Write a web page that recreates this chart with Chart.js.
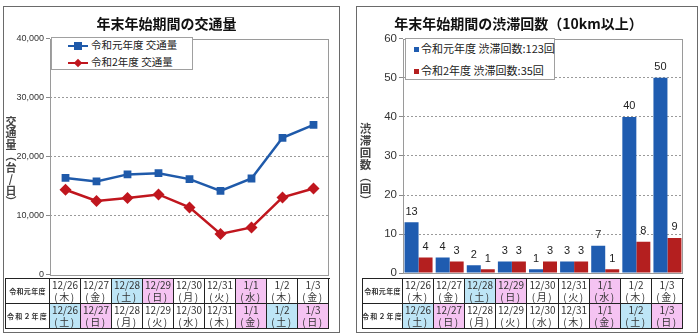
<!DOCTYPE html>
<html><head><meta charset="utf-8">
<script src="https://cdn.jsdelivr.net/npm/chart.js@4.4.1/dist/chart.umd.min.js"></script>
<style>
html,body{margin:0;padding:0;background:#fff}
body{width:700px;height:335px;position:relative;overflow:hidden;font-family:"Noto Sans CJK JP","Noto Sans",sans-serif;color:#222}
.panel{position:absolute;border:1px solid #6a6a6a;box-sizing:border-box}
.cv{position:absolute}
.ytitle{position:absolute;writing-mode:vertical-rl;text-orientation:upright;font-weight:bold;color:#444;line-height:1;letter-spacing:0.5px}
.legend{position:absolute;background:#fff;border:1px solid #a0a0a0;box-sizing:border-box}
.lrow{position:absolute;left:0;white-space:nowrap;line-height:1}
.tbl{position:absolute}
.cell{position:absolute;box-sizing:border-box;border-right:1px solid #222;border-bottom:1px solid #222;text-align:center;color:#333;font-size:10px;line-height:12px;padding-top:0px}
.hcell{font-weight:bold;font-size:7px;display:flex;align-items:center;justify-content:center;white-space:nowrap}
</style>
</head><body>
<div class="panel" style="left:3px;top:6px;width:337px;height:327px"></div>
<div class="panel" style="left:356px;top:6px;width:342px;height:327px"></div>
<canvas id="c1" class="cv" style="left:0;top:0;width:342px;height:282px" width="342" height="282"></canvas>
<canvas id="c2" class="cv" style="left:350px;top:0;width:346px;height:282px" width="346" height="282"></canvas>
<div class="ytitle" style="left:5px;top:116px;font-size:11px">交通量（台/日）</div>
<div class="ytitle" style="left:359px;top:123px;font-size:11.5px">渋滞回数（回）</div>
<script>
// ---- data ----
const dates = ['12/26','12/27','12/28','12/29','12/30','12/31','1/1','1/2','1/3'];
const daysR1 = ['木','金','土','日','月','火','水','木','金'];
const daysR2 = ['土','日','月','火','水','木','金','土','日'];
const rowLabels = ['令和元年度','令和２年度'];
const trafficR1 = [16400,15800,17000,17200,16200,14200,16300,23200,25400];
const trafficR2 = [14400,12500,13000,13600,11400,6900,8000,13100,14600];
const jamR1 = [13,4,2,3,1,3,7,40,50];
const jamR2 = [4,3,1,3,3,3,1,8,9];
const trafficLegend = ['令和元年度 交通量','令和2年度 交通量'];
const jamLegend = ['令和元年度 渋滞回数:123回','令和2年度 渋滞回数:35回'];
const title1 = '年末年始期間の交通量';
const title2 = '年末年始期間の渋滞回数（10km以上）';

const BLUE = '#1f5aaa', RED = '#c0161e';
const BAR_BLUE = '#1f5cb0', BAR_RED = '#b41f1f';
const CELL_BLUE = '#bde5f6', CELL_PINK = '#f5c3f2';

Chart.defaults.font.family = '"Liberation Sans", Arial, sans-serif';
Chart.defaults.color = '#333';

const frame = {id:'frame', beforeDatasetsDraw(chart){
  const {ctx, chartArea:a} = chart;
  ctx.save(); ctx.strokeStyle = '#9a9a9a'; ctx.lineWidth = 1;
  ctx.strokeRect(Math.round(a.left)+0.5, Math.round(a.top)+0.5, Math.round(a.right-a.left)-1, Math.round(a.bottom-a.top));
  ctx.restore();
}};
const barLabels = {id:'barLabels', afterDatasetsDraw(chart){
  const ctx = chart.ctx; ctx.save();
  ctx.font = '11px "Liberation Sans", Arial, sans-serif'; ctx.fillStyle = '#222';
  ctx.textAlign = 'center'; ctx.textBaseline = 'bottom';
  chart.data.datasets.forEach((ds, di) => {
    chart.getDatasetMeta(di).data.forEach((el, i) => { ctx.fillText(String(ds.data[i]), el.x, el.y - 5); });
  });
  ctx.restore();
}};

function yScale(max, step, fontSize, width){
  return {
    min:0, max:max, ticks:{stepSize:step, font:{size:fontSize}, color:'#333', padding:2,
      callback:v=>v.toLocaleString('en-US')},
    grid:{color:c=>(c.tick && (c.tick.value===0 || c.tick.value===max)) ? 'rgba(0,0,0,0)' : '#9a9a9a',
      tickColor:'#8a8a8a', tickLength:4, tickBorderDash:[], lineWidth:1},
    border:{display:false, dash:[2,2]},
    afterFit(s){ s.width = width; }
  };
}
function titleOpt(text){
  return {display:true, text:text, font:{size:14, weight:'bold', family:'"Noto Sans CJK JP", sans-serif'}, color:'#111',
    padding:{top:15, bottom:7}};
}

const chart1 = new Chart(document.getElementById('c1'), {
  type:'line',
  data:{labels:dates, datasets:[
    {label:trafficLegend[0], data:trafficR1, borderColor:BLUE, backgroundColor:BLUE, borderWidth:2.5,
      pointStyle:'rect', pointRadius:5.5, pointBorderWidth:0, tension:0},
    {label:trafficLegend[1], data:trafficR2, borderColor:RED, backgroundColor:RED, borderWidth:2.5,
      pointStyle:'rectRot', pointRadius:6, pointBorderWidth:0, tension:0}
  ]},
  options:{responsive:false, animation:false, devicePixelRatio:1,
    layout:{padding:{left:4, right:13, top:0, bottom:5}},
    plugins:{legend:{display:false}, title:titleOpt(title1), tooltip:{enabled:false}},
    scales:{x:{display:false, offset:true}, y:yScale(40000, 10000, 9, 46)}
  },
  plugins:[frame]
});

const chart2 = new Chart(document.getElementById('c2'), {
  type:'bar',
  data:{labels:dates, datasets:[
    {label:jamLegend[0], data:jamR1, backgroundColor:BAR_BLUE, categoryPercentage:0.9, barPercentage:1},
    {label:jamLegend[1], data:jamR2, backgroundColor:BAR_RED, categoryPercentage:0.9, barPercentage:1}
  ]},
  options:{responsive:false, animation:false, devicePixelRatio:1,
    layout:{padding:{left:4, right:13, top:0, bottom:4}},
    plugins:{legend:{display:false}, title:titleOpt(title2), tooltip:{enabled:false}},
    scales:{x:{display:false}, y:yScale(60, 10, 11.5, 49)}
  },
  plugins:[frame, barLabels]
});

function cellColor(date, day){
  if (day === '土') return CELL_BLUE;
  if (day === '日' || date === '1/1') return CELL_PINK;
  return '#fff';
}
function buildTable(chart, canvasLeft, tableLeft, top){
  const a = chart.chartArea;
  const xs = chart.scales.x;
  const left = canvasLeft + a.left;
  const colW = (a.right - a.left) / dates.length;
  const rowH = 25;
  const t = document.createElement('div');
  t.className = 'tbl';
  t.style.left = tableLeft + 'px'; t.style.top = top + 'px';
  t.style.width = (canvasLeft + a.right - tableLeft) + 'px'; t.style.height = (rowH*2) + 'px';
  t.style.borderTop = '1px solid #222'; t.style.borderLeft = '1px solid #222';
  t.style.boxSizing = 'content-box';
  const rows = [daysR1, daysR2];
  rows.forEach((days, r) => {
    const h = document.createElement('div');
    h.className = 'cell hcell';
    h.style.left = '0px'; h.style.top = (r*rowH) + 'px';
    h.style.width = (left - tableLeft - 1) + 'px'; h.style.height = rowH + 'px';
    h.style.letterSpacing = r === 1 ? '1.2px' : '0.3px';
    h.textContent = rowLabels[r];
    t.appendChild(h);
    dates.forEach((d, i) => {
      const cx = canvasLeft + xs.getPixelForValue(i);
      const x0 = cx - colW/2 - tableLeft - 1;
      const c = document.createElement('div');
      c.className = 'cell';
      c.style.left = Math.round(x0) + 'px'; c.style.top = (r*rowH) + 'px';
      c.style.width = (Math.round(x0 + colW) - Math.round(x0)) + 'px'; c.style.height = rowH + 'px';
      c.style.background = cellColor(d, days[i]);
      c.innerHTML = '<div>' + d + '</div><div style="letter-spacing:1.5px">(' + days[i] + ')</div>';
      t.appendChild(c);
    });
  });
  document.body.appendChild(t);
}
buildTable(chart1, 0, 5, 278);
buildTable(chart2, 350, 362, 278);

function buildLegend(left, top, w, h, items, kind, fontSize, rowYs, textX){
  const L = document.createElement('div');
  L.className = 'legend';
  L.style.left = left+'px'; L.style.top = top+'px'; L.style.width = w+'px'; L.style.height = h+'px';
  items.forEach((it, i) => {
    const color = i === 0 ? (kind==='line'?BLUE:BAR_BLUE) : (kind==='line'?RED:BAR_RED);
    const row = document.createElement('div');
    row.className = 'lrow';
    row.style.top = (rowYs[i] - fontSize*0.55) + 'px';
    row.style.left = textX + 'px';
    row.style.fontSize = fontSize + 'px';
    row.textContent = it;
    L.appendChild(row);
    if (kind === 'line') {
      const ln = document.createElement('div');
      ln.style.cssText = 'position:absolute;left:16px;width:20px;height:2.5px;background:'+color+';top:'+(rowYs[i]-1.25)+'px';
      L.appendChild(ln);
      const mk = document.createElement('div');
      const s = i === 0 ? 8 : 6;
      mk.style.cssText = 'position:absolute;width:'+s+'px;height:'+s+'px;background:'+color+';left:'+(26-s/2)+'px;top:'+(rowYs[i]-s/2)+'px;'+(i===1?'transform:rotate(45deg);':'');
      L.appendChild(mk);
    } else {
      const mk = document.createElement('div');
      mk.style.cssText = 'position:absolute;width:5px;height:5px;background:'+color+';left:8px;top:'+(rowYs[i]-2.5)+'px';
      L.appendChild(mk);
    }
  });
  document.body.appendChild(L);
}
buildLegend(51, 37, 142, 33, trafficLegend, 'line', 10.5, [8, 25], 39);
buildLegend(405, 38, 150, 42, jamLegend, 'bar', 11, [10, 32], 15);
</script>
</body></html>
